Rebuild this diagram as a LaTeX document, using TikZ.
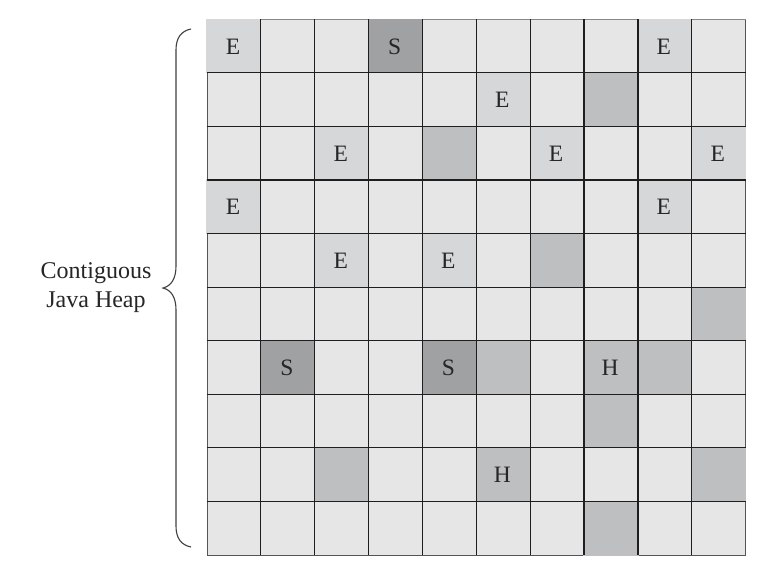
\documentclass[tikz,border=0pt]{standalone}
\usepackage{fontspec}
\setmainfont{Liberation Serif}
\definecolor{cellbg}{HTML}{E6E6E6}
\definecolor{ecol}{HTML}{D5D7D8}
\definecolor{mcol}{HTML}{BEBFC1}
\definecolor{scol}{HTML}{A0A1A2}
\definecolor{gridline}{HTML}{1E1E1E}
\definecolor{borderline}{HTML}{555555}
\tikzset{
  celltext/.style={font=\fontsize{23.5}{28}\selectfont, inner sep=0pt, text=black!85},
  labeltext/.style={font=\fontsize{24}{28}\selectfont, inner sep=0pt, text=black!85, anchor=base},
  inner/.style={draw=gridline, line width=1.2pt},
  outer/.style={draw=borderline, line width=1pt},
  bracestyle/.style={draw=black!75, line width=1.1pt}
}
\newcommand{\cx}[1]{207+53.87*(#1)}
\newcommand{\cy}[1]{19.3+53.57*(#1)}
\begin{document}
\begin{tikzpicture}[x=1pt,y=-1pt]
\useasboundingbox (0,0) rectangle (771,574);
\fill[white] (0,0) rectangle (771,574);
% background of heap
\fill[cellbg] (207,19.3) rectangle (745.7,555);
% outer border
\draw[outer] (207,19.3) -- (207,555) -- (745.7,555) -- (745.7,19.3);
\draw[draw=borderline!70, line width=0.7pt] (207,19.3) -- (745.7,19.3);
% shaded regions
\foreach \c/\r/\col in {0/0/ecol,3/0/scol,8/0/ecol,
  5/1/ecol,7/1/mcol,
  2/2/ecol,4/2/mcol,6/2/ecol,9/2/ecol,
  0/3/ecol,8/3/ecol,
  2/4/ecol,4/4/ecol,6/4/mcol,
  9/5/mcol,
  1/6/scol,4/6/scol,5/6/mcol,7/6/mcol,8/6/mcol,
  7/7/mcol,
  2/8/mcol,5/8/mcol,9/8/mcol,
  7/9/mcol} {
  \fill[\col] ({\cx{\c}-0.6},{\cy{\r}-0.6}) rectangle ({\cx{\c+1}+0.6},{\cy{\r+1}+0.6});
}
% interior grid lines
\foreach \k in {1,...,9} {
  \draw[inner] ({\cx{\k}},19.3) -- ({\cx{\k}},555);
  \draw[inner] (207,{\cy{\k}}) -- (745.7,{\cy{\k}});
}
% cell letters
\foreach \c/\r/\t [count=\n] in {0/0/E,3/0/S,8/0/E,5/1/E,2/2/E,6/2/E,9/2/E,
  0/3/E,8/3/E,2/4/E,4/4/E,1/6/S,4/6/S,7/6/H,5/8/H} {
  \node[celltext] (t\n) at ({\cx{\c+0.5}-1},{\cy{\r+0.5}+0.5}) {\t};
}
% label
\node[labeltext] (lab1) at (96,278) {Contiguous};
\node[labeltext] (lab2) at (96,307) {Java Heap};
% brace
\draw[bracestyle] (191,29) .. controls (181,31) and (176,38) .. (176,50)
  -- (176,266) .. controls (176,279) and (171,286) .. (163,288)
  .. controls (171,290) and (176,297) .. (176,310)
  -- (176,526) .. controls (176,538) and (181,545) .. (191,547);
\end{tikzpicture}
\end{document}
